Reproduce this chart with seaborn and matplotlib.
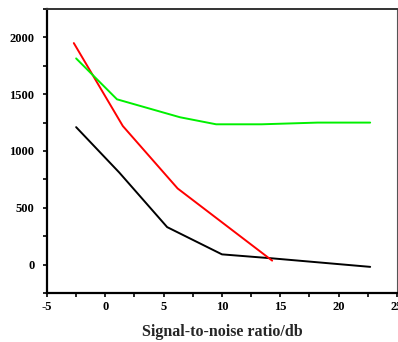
import matplotlib
matplotlib.use("Agg")
import matplotlib.pyplot as plt
import seaborn as sns
import pandas as pd
from matplotlib.ticker import MultipleLocator

sns.set_style("ticks")
plt.rcParams['font.family'] = ['Liberation Serif', 'DejaVu Serif']
plt.rcParams['axes.unicode_minus'] = False

black_x = [-2.5, 1.2, 5.3, 10.0, 14.3, 22.7]
black_y = [1210, 810, 330, 90, 55, -20]
red_x = [-2.7, 1.5, 6.2, 14.3]
red_y = [1950, 1220, 670, 35]
green_x = [-2.5, 1.0, 6.4, 9.5, 13.4, 18.2, 22.7]
green_y = [1815, 1455, 1297, 1235, 1235, 1250, 1250]

x_label = "Signal-to-noise ratio/db"

fig = plt.figure(figsize=(3.98, 3.42), dpi=100)
ax = fig.add_axes([0.118, 0.1433, 0.8795, 0.8304])

for xs, ys, c in [(black_x, black_y, "black"), (red_x, red_y, "#ff0000"), (green_x, green_y, "#00f000")]:
    df = pd.DataFrame({"x": xs, "y": ys})
    sns.lineplot(data=df, x="x", y="y", ax=ax, color=c, linewidth=1.4,
                 estimator=None, sort=False)

ax.set_xlim(-5, 25)
ax.set_ylim(-250, 2250)
ax.xaxis.set_major_locator(MultipleLocator(5))
ax.xaxis.set_minor_locator(MultipleLocator(2.5))
ax.yaxis.set_major_locator(MultipleLocator(500))
ax.yaxis.set_minor_locator(MultipleLocator(250))
ax.tick_params(which="both", direction="out", length=3, width=1.2, colors="black",
               labelsize=9)
ax.tick_params(axis="x", pad=3)
ax.tick_params(axis="y", pad=6)
for lab in ax.get_xticklabels() + ax.get_yticklabels():
    lab.set_fontweight("bold")

ax.set_xlabel(x_label, fontsize=11.5, fontweight="bold", labelpad=8)
ax.set_ylabel("")

for s in ["left", "bottom"]:
    ax.spines[s].set_linewidth(1.6)
    ax.spines[s].set_color("black")
ax.spines["top"].set_visible(True)
ax.spines["right"].set_visible(True)
ax.spines["top"].set_linewidth(1.4)
ax.spines["top"].set_color("#333333")
ax.spines["right"].set_linewidth(0.8)
ax.spines["right"].set_color("#555555")

fig.savefig("out.png", dpi=100)
